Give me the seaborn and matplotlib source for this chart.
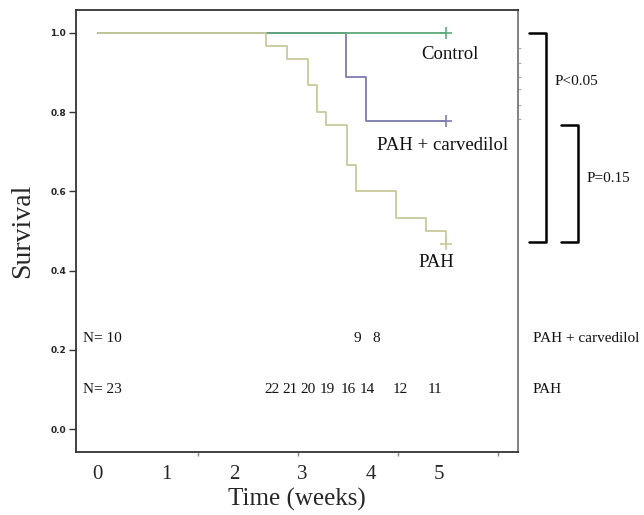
import pandas as pd
import matplotlib
matplotlib.use("Agg")
import matplotlib.pyplot as plt
import seaborn as sns

# Kaplan-Meier steps (weeks, survival)
control_t = [0, 5.11]
control_s = [1.0, 1.0]
carv_t = [0, 3.64, 3.94, 5.11]
carv_s = [1.0, 0.889, 0.778, 0.778]
pah_t = [0, 2.47, 2.78, 3.08, 3.21, 3.35, 3.65, 3.79, 4.38, 4.82, 5.11]
pah_s = [1.0, 0.967, 0.933, 0.867, 0.800, 0.767, 0.667, 0.600, 0.533, 0.500, 0.467]

# numbers at risk
carv_risk_t = [3.80, 4.08]
carv_risk_n = [9, 8]
pah_risk_t = [2.55, 2.82, 3.09, 3.37, 3.67, 3.96, 4.44, 4.94]
pah_risk_n = [22, 21, 20, 19, 16, 14, 12, 11]

x_ticks = [0, 1, 2, 3, 4, 5]
y_ticks = [0.0, 0.2, 0.4, 0.6, 0.8, 1.0]
groups = ["PAH + carvedilol", "Control", "PAH"]
colors = {"PAH + carvedilol": "#7c7cb0", "Control": "#5fa87c", "PAH": "#c9c99c"}

df = pd.concat([
    pd.DataFrame({"time": carv_t, "surv": carv_s, "group": "PAH + carvedilol"}),
    pd.DataFrame({"time": control_t, "surv": control_s, "group": "Control"}),
    pd.DataFrame({"time": pah_t, "surv": pah_s, "group": "PAH"}),
])
ends = df.groupby("group", sort=False).tail(1)

sns.set_style("white")
serif = "Liberation Serif"

fig = plt.figure(figsize=(6.44, 5.15), dpi=100)
ax = fig.add_axes([0.118, 0.122, 0.686, 0.859])

sns.lineplot(data=df, x="time", y="surv", hue="group", hue_order=groups,
             palette=colors, drawstyle="steps-post", linewidth=1.3,
             estimator=None, sort=False, legend=False, ax=ax)
sns.scatterplot(data=ends, x="time", y="surv", hue="group", hue_order=groups,
                palette=colors, marker="+", s=70, linewidth=1.2,
                legend=False, ax=ax)

ax.set_xlim(-0.32, 6.16)
ax.set_ylim(-0.058, 1.058)

# axes look
for side in ["left", "bottom", "top"]:
    ax.spines[side].set_color("#333333")
    ax.spines[side].set_linewidth(1.3)
ax.spines["right"].set_color("#777777")
ax.spines["right"].set_linewidth(1.3)

ax.set_yticks(y_ticks)
ax.set_yticklabels([f"{v:.1f}" for v in y_ticks], fontsize=6.5,
                   fontweight="bold", family="DejaVu Sans")
ax.tick_params(axis="y", direction="out", length=5, width=1, color="#333333",
               pad=2, left=True)

ax.set_xticks(x_ticks)
ax.set_xticklabels([str(v) for v in x_ticks], fontsize=15, family=serif)
ax.tick_params(axis="x", which="major", length=0, pad=9)
ax.set_xticks([k * 1.466 for k in range(5)], minor=True)
ax.tick_params(axis="x", which="minor", direction="out", length=3,
               width=1, color="#888888", bottom=True)

right = ax.secondary_yaxis("right")
right.set_yticks([0.962, 0.924, 0.889, 0.858, 0.818, 0.782])
right.set_yticklabels([])
right.tick_params(length=2, width=0.8, color="#aaaaaa", direction="out")
right.spines["right"].set_visible(False)

ax.set_xlabel("Time (weeks)", fontsize=18, family=serif, labelpad=3)
ax.set_ylabel("Survival", fontsize=20, family=serif, labelpad=11)

# curve labels
txt = dict(family=serif, color="#111111")
ax.text(5.16, 0.944, "Control", ha="center", va="center", fontsize=13.5, **txt)
ax.text(5.06, 0.716, "PAH + carvedilol", ha="center", va="center", fontsize=13.5, **txt)
ax.text(4.97, 0.42, "PAH", ha="center", va="center", fontsize=13.5, **txt)

# numbers at risk
ax.text(-0.22, 0.23, "N= 10", ha="left", va="center", fontsize=11, **txt)
ax.text(-0.22, 0.10, "N= 23", ha="left", va="center", fontsize=11, **txt)
for t, n in zip(carv_risk_t, carv_risk_n):
    ax.text(t, 0.23, str(n), ha="center", va="center", fontsize=11, **txt)
for t, n in zip(pah_risk_t, pah_risk_n):
    ax.text(t, 0.10, str(n), ha="center", va="center", fontsize=11, **txt)
ax.text(6.38, 0.23, "PAH + carvedilol", ha="left", va="center", fontsize=11,
        clip_on=False, **txt)
ax.text(6.38, 0.10, "PAH", ha="left", va="center", fontsize=11,
        clip_on=False, **txt)

# significance brackets
ax.plot([6.33, 6.58, 6.58, 6.33], [1.0, 1.0, 0.471, 0.471], color="black",
        linewidth=1.8, clip_on=False)
ax.plot([6.80, 7.04, 7.04, 6.80], [0.767, 0.767, 0.471, 0.471], color="black",
        linewidth=1.8, clip_on=False)
ax.text(6.70, 0.876, "P<0.05", ha="left", va="center", fontsize=11,
        clip_on=False, **txt)
ax.text(7.17, 0.633, "P=0.15", ha="left", va="center", fontsize=11,
        clip_on=False, **txt)

fig.savefig("out.png", dpi=100)
